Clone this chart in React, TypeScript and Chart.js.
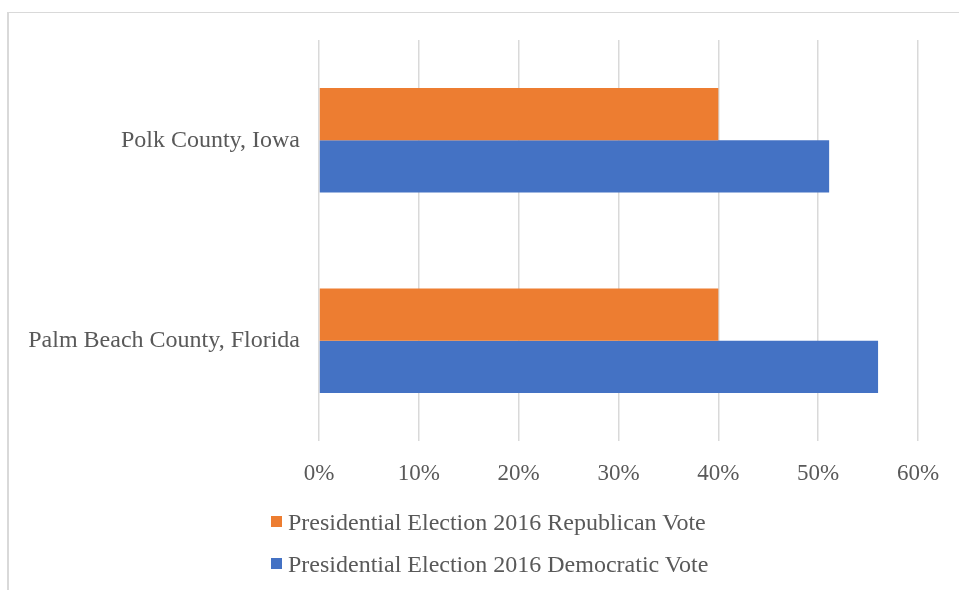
import React, { useEffect, useRef } from "react";
import { Chart, registerables } from "chart.js";

Chart.register(...registerables);

const categories = ["Polk County, Iowa", "Palm Beach County, Florida"];
const seriesNames = [
  "Presidential Election 2016 Republican Vote",
  "Presidential Election 2016 Democratic Vote",
];
const republican = [40, 40];
const democratic = [51.1, 56];
const seriesColors = ["#ED7D31", "#4472C4"];
const tickMax = 60;
const tickStep = 10;

const FONT = "'Liberation Serif', 'Times New Roman', serif";
const TEXT = "#595959";

export default function App() {
  const canvasRef = useRef<HTMLCanvasElement | null>(null);

  useEffect(() => {
    if (!canvasRef.current) return;
    const chart = new Chart(canvasRef.current, {
      type: "bar",
      data: {
        labels: categories,
        datasets: [
          {
            label: seriesNames[0],
            data: republican,
            backgroundColor: seriesColors[0],
            categoryPercentage: 0.52,
            barPercentage: 1,
          },
          {
            label: seriesNames[1],
            data: democratic,
            backgroundColor: seriesColors[1],
            categoryPercentage: 0.52,
            barPercentage: 1,
          },
        ],
      },
      options: {
        indexAxis: "y",
        animation: false,
        responsive: false,
        maintainAspectRatio: false,
        layout: { padding: { top: 40, right: 41, bottom: 99, left: 0 } },
        plugins: {
          legend: { display: false },
          tooltip: { enabled: false },
        },
        scales: {
          x: {
            min: 0,
            max: tickMax,
            ticks: {
              stepSize: tickStep,
              color: TEXT,
              font: { family: FONT, size: 23 },
              padding: 19,
              callback: (v: any) => `${v}%`,
            },
            grid: { color: "#d9d9d9", lineWidth: 1.5, drawTicks: false },
            border: { display: false },
            afterFit: (scale: any) => {
              scale.height = 50;
            },
          },
          y: {
            ticks: {
              color: TEXT,
              font: { family: FONT, size: 24 },
              padding: 19,
            },
            grid: { display: false, drawTicks: false },
            border: { display: false },
            afterFit: (scale: any) => {
              scale.width = 319;
            },
          },
        },
      },
    });
    return () => chart.destroy();
  }, []);

  const legendRow = (i: number, top: number) => (
    <div key={i}>
      <div
        style={{
          position: "absolute",
          left: 271,
          top: top + 6,
          width: 11,
          height: 11,
          background: seriesColors[i],
        }}
      />
      <div
        style={{
          position: "absolute",
          left: 288,
          top: top,
          fontFamily: FONT,
          fontSize: "24px",
          lineHeight: "24px",
          color: TEXT,
          whiteSpace: "nowrap",
        }}
      >
        {seriesNames[i]}
      </div>
    </div>
  );

  return (
    <div
      style={{
        position: "absolute",
        left: 0,
        top: 0,
        width: 959,
        height: 590,
        overflow: "hidden",
        background: "#fff",
      }}
    >
      <div
        style={{
          position: "absolute",
          left: 7,
          top: 12,
          width: 980,
          height: 600,
          borderTop: "1px solid #d9d9d9",
          borderLeft: "2px solid #d9d9d9",
        }}
      />
      <canvas
        ref={canvasRef}
        width={959}
        height={590}
        style={{ position: "absolute", left: 0, top: 0 }}
      />
      {legendRow(0, 510)}
      {legendRow(1, 552)}
    </div>
  );
}
